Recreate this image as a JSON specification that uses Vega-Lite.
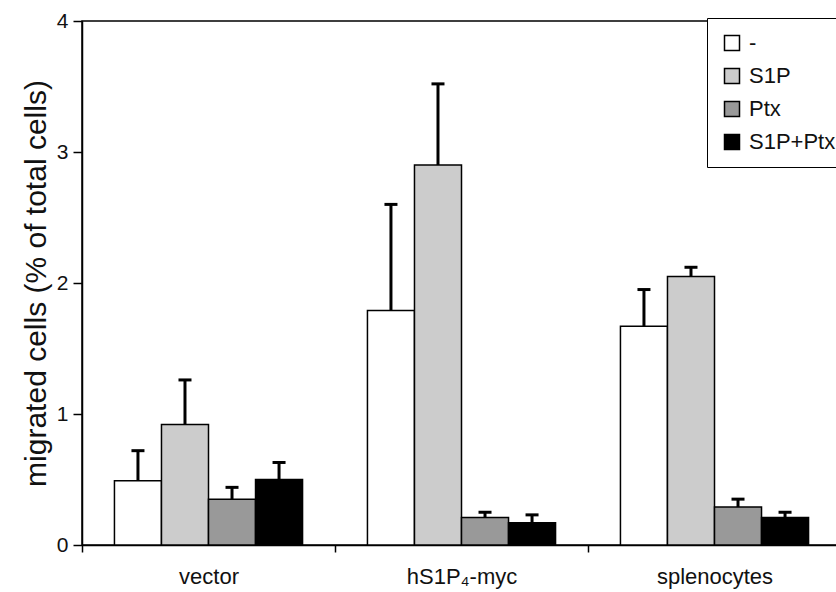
{
  "$schema": "https://vega.github.io/schema/vega-lite/v6.json",
  "width": 759,
  "height": 524,
  "autosize": {"type": "none"},
  "padding": {"left": 82, "top": 21, "right": 0, "bottom": 47},
  "background": "white",
  "config": {
    "font": "Liberation Sans",
    "view": {"stroke": "black", "strokeWidth": 1.5},
    "axis": {"grid": false, "domainColor": "black", "tickColor": "black", "labelColor": "#111", "titleColor": "#111", "domainWidth": 1.5, "tickWidth": 1.5}
  },
  "data": {
    "values": [
      {"group": "vector", "treatment": "-", "value": 0.49, "upper": 0.72},
      {"group": "vector", "treatment": "S1P", "value": 0.92, "upper": 1.26},
      {"group": "vector", "treatment": "Ptx", "value": 0.35, "upper": 0.44},
      {"group": "vector", "treatment": "S1P+Ptx", "value": 0.50, "upper": 0.63},
      {"group": "hS1P₄-myc", "treatment": "-", "value": 1.79, "upper": 2.60},
      {"group": "hS1P₄-myc", "treatment": "S1P", "value": 2.90, "upper": 3.52},
      {"group": "hS1P₄-myc", "treatment": "Ptx", "value": 0.21, "upper": 0.25},
      {"group": "hS1P₄-myc", "treatment": "S1P+Ptx", "value": 0.17, "upper": 0.23},
      {"group": "splenocytes", "treatment": "-", "value": 1.67, "upper": 1.95},
      {"group": "splenocytes", "treatment": "S1P", "value": 2.05, "upper": 2.12},
      {"group": "splenocytes", "treatment": "Ptx", "value": 0.29, "upper": 0.35},
      {"group": "splenocytes", "treatment": "S1P+Ptx", "value": 0.21, "upper": 0.25}
    ]
  },
  "encoding": {
    "x": {
      "field": "group", "type": "nominal", "sort": ["vector", "hS1P₄-myc", "splenocytes"],
      "scale": {"paddingInner": 0, "paddingOuter": 0},
      "axis": {"title": null, "labelAngle": 0, "labelFontSize": 22, "labelPadding": 14, "tickBand": "extent", "tickSize": 7}
    },
    "xOffset": {
      "field": "treatment", "type": "nominal", "sort": ["-", "S1P", "Ptx", "S1P+Ptx"],
      "scale": {"paddingInner": 0, "paddingOuter": 0.69}
    }
  },
  "layer": [
    {
      "mark": {"type": "rule", "strokeWidth": 3, "color": "black"},
      "encoding": {
        "y": {"field": "value", "type": "quantitative"},
        "y2": {"field": "upper"}
      }
    },
    {
      "mark": {"type": "tick", "thickness": 3, "size": 13, "color": "black", "opacity": 1},
      "encoding": {
        "y": {"field": "upper", "type": "quantitative"}
      }
    },
    {
      "mark": {"type": "bar", "stroke": "black", "strokeWidth": 1.5, "opacity": 1},
      "encoding": {
        "y": {
          "field": "value", "type": "quantitative",
          "scale": {"domain": [0, 4]},
          "axis": {"title": "migrated cells (% of total cells)", "values": [0, 1, 2, 3, 4], "format": "d", "labelFontSize": 21, "titleFontSize": 30, "titleFontWeight": "normal", "tickSize": 9, "labelPadding": 5, "titlePadding": 5}
        },
        "fill": {
          "field": "treatment", "type": "nominal",
          "scale": {"domain": ["-", "S1P", "Ptx", "S1P+Ptx"], "range": ["#ffffff", "#cccccc", "#999999", "#000000"]},
          "legend": {
            "title": null, "orient": "none", "legendX": 625, "legendY": -3,
            "strokeColor": "black", "padding": 14, "labelFontSize": 22, "labelColor": "#111",
            "symbolType": "square", "symbolSize": 225, "symbolStrokeColor": "black", "symbolStrokeWidth": 1.5,
            "symbolOpacity": 1, "rowPadding": 11, "labelOffset": 6, "fillColor": "white"
          }
        }
      }
    }
  ]
}
